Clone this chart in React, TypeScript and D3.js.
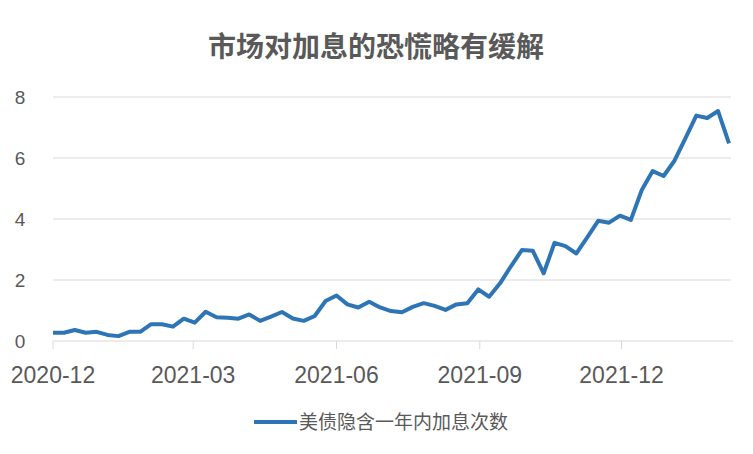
import React from "react";
import * as d3 from "d3";

const TITLE = "市场对加息的恐慌略有缓解";
const SERIES_NAME = "美债隐含一年内加息次数";
const START_DATE = "2020-12-01";
const values: number[] = [
  0.27, 0.27, 0.36, 0.27, 0.30, 0.20, 0.16, 0.30, 0.30, 0.55,
  0.55, 0.47, 0.73, 0.60, 0.96, 0.78, 0.76, 0.73, 0.87, 0.66,
  0.80, 0.95, 0.74, 0.66, 0.82, 1.31, 1.49, 1.20, 1.10, 1.29,
  1.10, 0.98, 0.94, 1.12, 1.24, 1.15, 1.02, 1.20, 1.24, 1.69,
  1.45, 1.89, 2.45, 2.98, 2.96, 2.22, 3.22, 3.11, 2.87, 3.40,
  3.94, 3.88, 4.11, 3.97, 4.95, 5.57, 5.41, 5.91, 6.64, 7.39,
  7.31, 7.54, 6.48,
];
const yTicks = [0, 2, 4, 6, 8];
const xTickLabels = ["2020-12", "2021-03", "2021-06", "2021-09", "2021-12"];

const W = 753;
const H = 454;
const FONT = "'Liberation Sans', Arial, 'Noto Sans CJK SC', sans-serif";
const CJK = "'Noto Sans CJK SC', 'Liberation Sans', sans-serif";
const TEXT = "#595959";
const LINE = "#2E75B6";
const GRID = "#d9d9d9";

export default function App() {
  const parse = d3.timeParse("%Y-%m-%d");
  const start = parse(START_DATE) as Date;
  const dates = values.map((_, i) => d3.timeDay.offset(start, 7 * i));
  const x = d3
    .scaleTime()
    .domain([dates[0], dates[dates.length - 1]])
    .range([53, 729]);
  const y = d3.scaleLinear().domain([0, 8]).range([341, 97]);
  const tickDates = xTickLabels.map((s) => d3.timeParse("%Y-%m")(s) as Date);
  const line = d3
    .line<number>()
    .x((_, i) => x(dates[i]))
    .y((d) => y(d));

  return (
    <svg
      width={W}
      height={H}
      style={{ position: "absolute", left: 0, top: 0, background: "#fff" }}
    >
      <text
        x={376}
        y={57}
        textAnchor="middle"
        fontFamily={CJK}
        fontWeight="bold"
        fontSize={28}
        fill={TEXT}
      >
        {TITLE}
      </text>
      {yTicks.map((t) => (
        <g key={t}>
          {t !== 0 && (
            <line x1={53} x2={731} y1={y(t)} y2={y(t)} stroke={GRID} strokeWidth={1} />
          )}
          <text
            x={20}
            y={y(t)}
            dy="0.36em"
            textAnchor="middle"
            fontFamily={FONT}
            fontSize={19}
            fill={TEXT}
          >
            {t}
          </text>
        </g>
      ))}
      <line x1={53} x2={733} y1={y(0)} y2={y(0)} stroke={GRID} strokeWidth={1} />
      {tickDates.map((d, i) => (
        <g key={i}>
          <line x1={x(d)} x2={x(d)} y1={y(0)} y2={y(0) + 8} stroke={GRID} strokeWidth={1} />
          <text
            x={x(d)}
            y={383}
            textAnchor="middle"
            fontFamily={FONT}
            fontSize={23}
            fill={TEXT}
          >
            {xTickLabels[i]}
          </text>
        </g>
      ))}
      <path
        d={line(values) || ""}
        fill="none"
        stroke={LINE}
        strokeWidth={4}
        strokeLinejoin="round"
        strokeLinecap="butt"
      />
      <line x1={254} x2={297} y1={422} y2={422} stroke={LINE} strokeWidth={4} />
      <text x={299} y={428.5} fontFamily={CJK} fontSize={19} fill={TEXT}>
        {SERIES_NAME}
      </text>
    </svg>
  );
}
